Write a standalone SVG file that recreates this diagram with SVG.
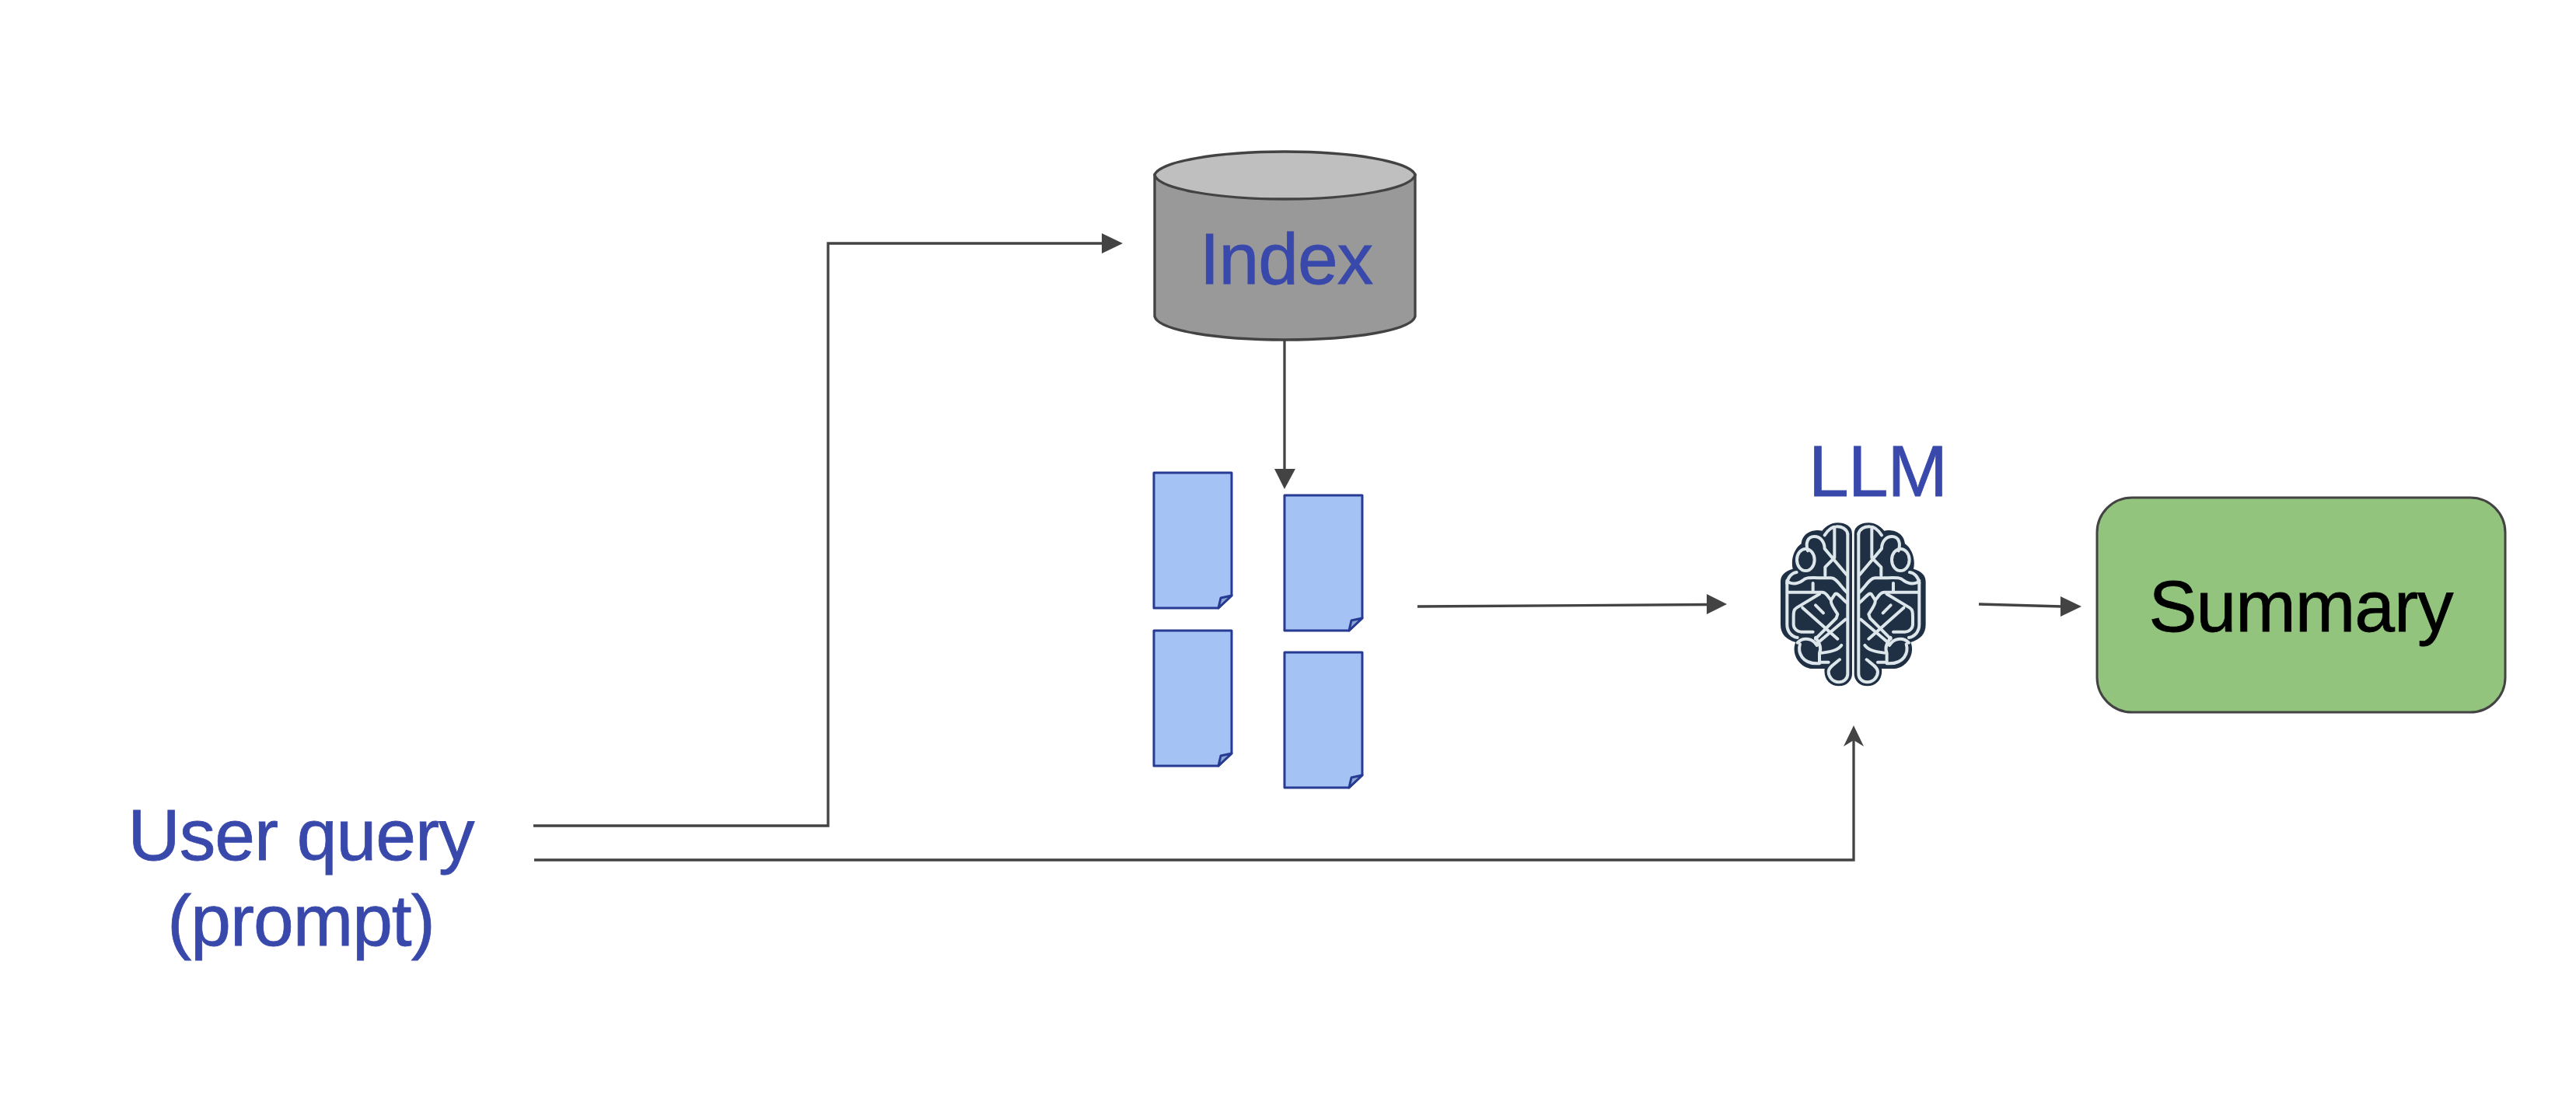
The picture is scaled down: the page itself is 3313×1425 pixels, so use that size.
<svg xmlns="http://www.w3.org/2000/svg" xmlns:xlink="http://www.w3.org/1999/xlink" width="3313" height="1425" viewBox="0 0 3313 1425">
<style>
.t{font-family:"Liberation Sans",Arial,sans-serif;font-size:93px;letter-spacing:-1px;fill:#3949ab;stroke:#3949ab;stroke-width:0.800;text-anchor:middle}
.k{fill:#000000;stroke:#000000}
.c{fill:none;stroke:#434343;stroke-width:3.300}
.h{fill:#434343;stroke:none}
.d{fill:#a4c2f4;stroke:#283b93;stroke-width:3;stroke-linejoin:round}
.f{fill:#8ba5d2;stroke:#283b93;stroke-width:3;stroke-linejoin:round}
.cy{fill:#999999;stroke:#434343;stroke-width:3.300}
.bl{fill:none;stroke:#dde6ea;stroke-width:12;stroke-linecap:round;stroke-linejoin:round}
</style>
<defs>
<g id="doc">
<path class="d" d="M0 0H100V158L83 174H0Z"/>
<path class="f" d="M83 174L86 161L100 158Z"/>
</g>
<g id="half">
<path fill="#1f3044" d="M426 140C426 110 400 97 370 97C345 97 325 110 310 128C285 122 235 130 230 178C205 195 188 235 197 275C165 285 150 300 150 325V490C150 525 170 548 208 558C190 600 220 655 270 660H320C315 700 340 727 375 727C405 727 426 705 426 680Z"/>
<path class="bl" d="M409 140V680C409 700 392 712 375 712C350 712 335 690 335 672C335 655 360 640 378 625"/>
<path class="bl" d="M409 140C405 120 385 110 365 112C345 112 330 130 320 145M358 114V232M320 197L405 298M320 197C320 172 305 150 280 150C255 150 245 175 255 205"/>
<ellipse class="bl" cx="247" cy="240" rx="34" ry="42"/>
<path class="bl" d="M350 240L322 268V300M175 330C178 305 195 290 212 288M175 320C185 335 215 335 235 320C250 305 260 310 345 310C365 310 380 340 405 365"/>
<path class="bl" d="M175 325V490C175 515 190 535 215 540M175 365H310C330 365 335 390 345 395L360 372C372 365 385 390 405 405M275 330V365"/>
<path class="bl" d="M300 372L212 425C200 432 200 445 200 460V490C200 505 215 518 230 518H275M235 425L370 545M345 395C340 410 365 440 370 450L365 465L285 545M400 470L300 555"/>
<path class="bl" d="M285 415L315 445M285 540C300 560 310 580 300 600V635H335M300 600C330 598 370 592 385 570M215 560C240 535 275 545 290 570M225 565C215 600 235 640 290 640H300"/>
</g>
</defs>
<rect width="3313" height="1425" fill="#ffffff"/>
<g id="connectors">
<path class="c" d="M686 1062H1065V313H1420"/>
<polygon class="h" points="1444,313 1417,300 1417,326"/>
<path class="c" d="M687 1106H2384V950"/>
<polygon class="h" points="2384,933 2371,960 2384,952 2397,960"/>
<path class="c" d="M1652 437V605"/>
<polygon class="h" points="1652,629 1639,603 1666,603"/>
<path class="c" d="M1823 780L2198 777.500"/>
<polygon class="h" points="2221,777 2195,764 2195,790"/>
<path class="c" d="M2545 777L2652 780"/>
<polygon class="h" points="2677,780 2650,767 2650,793"/>
</g>
<g id="index">
<path class="cy" d="M1485 225V407C1490 425 1565 437 1652.500 437C1740 437 1815 425 1820 407V225Z"/>
<path class="cy" style="fill:#bfbfbf" d="M1485 225C1490 208 1565 195 1652.500 195C1740 195 1815 208 1820 225C1815 243 1740 256 1652.500 256C1565 256 1490 243 1485 225Z"/>
<text class="t" x="1654" y="365">Index</text>
</g>
<g id="doc-1"><use xlink:href="#doc" href="#doc" x="1484" y="608"/></g>
<g id="doc-2"><use xlink:href="#doc" href="#doc" x="1652" y="637"/></g>
<g id="doc-3"><use xlink:href="#doc" href="#doc" x="1484" y="811"/></g>
<g id="doc-4"><use xlink:href="#doc" href="#doc" x="1652" y="839"/></g>
<g id="llm">
<text class="t" x="2415" y="638">LLM</text>
<g transform="translate(2240 640) scale(0.3333)">
<use xlink:href="#half" href="#half"/>
<use xlink:href="#half" href="#half" transform="translate(860 0) scale(-1 1)"/>
</g>
</g>
<g id="summary">
<rect x="2697" y="640" width="525" height="276" rx="45" fill="#93c47d" stroke="#434343" stroke-width="3"/>
<text class="t k" x="2959" y="812">Summary</text>
</g>
<g id="user-query">
<text class="t" x="387" y="1106">User query</text>
<text class="t" x="387" y="1216">(prompt)</text>
</g>
</svg>
